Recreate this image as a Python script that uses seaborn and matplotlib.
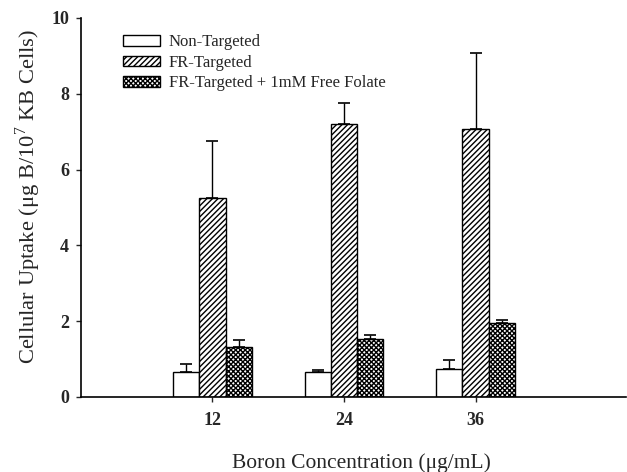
import numpy as np
import pandas as pd
import seaborn as sns
import matplotlib.pyplot as plt

# Values
concentrations = [12, 24, 36]
groups = ['Non-Targeted', 'FR-Targeted', 'FR-Targeted + 1mM Free Folate']
non_targeted = [0.67, 0.67, 0.74]
fr_targeted = [5.25, 7.20, 7.07]
free_folate = [1.33, 1.53, 1.95]
non_targeted_err = [0.20, 0.03, 0.24]
fr_targeted_err = [1.50, 0.56, 2.00]
free_folate_err = [0.16, 0.11, 0.08]

df = pd.DataFrame({
    'conc': concentrations * 3,
    'group': np.repeat(groups, 3),
    'uptake': non_targeted + fr_targeted + free_folate,
    'err': non_targeted_err + fr_targeted_err + free_folate_err,
})

sns.set_style('ticks')
plt.rcParams['font.family'] = ['Liberation Serif', 'DejaVu Serif']
plt.rcParams['mathtext.fontset'] = 'custom'
plt.rcParams['mathtext.rm'] = 'Liberation Serif'
plt.rcParams['hatch.linewidth'] = 1.0

fig = plt.figure(figsize=(6.27, 4.72), dpi=100)
ax = fig.add_axes([0.129, 0.159, 0.869, 0.803])

sns.barplot(data=df, x='conc', y='uptake', hue='group', hue_order=groups,
            native_scale=True, width=0.6, errorbar=None, ax=ax,
            color='white', edgecolor='black', linewidth=1.0, saturation=1)

hatches = ['', '//////', 'xxxxxxx']
for cont, h, g in zip(ax.containers, hatches, groups):
    sub = df[df['group'] == g]
    for bar in cont:
        bar.set_hatch(h)
        bar.set_facecolor('white')
        bar.set_edgecolor('black')
    xs = [b.get_x() + b.get_width() / 2 for b in cont]
    ax.errorbar(xs, sub['uptake'].values, yerr=[np.zeros(3), sub['err'].values],
                fmt='none', ecolor='black', elinewidth=1.0, capsize=4,
                capthick=1.2, zorder=1)

ax.legend(ax.containers, groups, loc='upper left', bbox_to_anchor=(0.056, 0.988),
          frameon=False, fontsize=12, handlelength=2.2, handleheight=0.6,
          handletextpad=0.55, labelspacing=0.28, borderaxespad=0.3)

ax.set_xlim(0, 49.7)
ax.set_ylim(0, 10)
ax.set_xticks(concentrations)
ax.set_xticklabels([str(c) for c in concentrations])
ax.set_yticks([0, 2, 4, 6, 8, 10])
ax.tick_params(axis='both', labelsize=13, length=3.5, width=1, direction='out')
ax.tick_params(axis='x', pad=7)
ax.tick_params(axis='y', pad=5)
for lab in ax.get_xticklabels() + ax.get_yticklabels():
    lab.set_fontweight('bold')

ax.set_xlabel('Boron Concentration (μg/mL)', fontsize=15.5, labelpad=18, x=0.514)
ax.set_ylabel('Cellular Uptake (μg B/10$^7$ KB Cells)', fontsize=16.2, labelpad=6, y=0.528)
sns.despine(ax=ax)
for s in ['left', 'bottom']:
    ax.spines[s].set_linewidth(1.2)
    ax.spines[s].set_color('black')

fig.savefig('out.png', dpi=100)
